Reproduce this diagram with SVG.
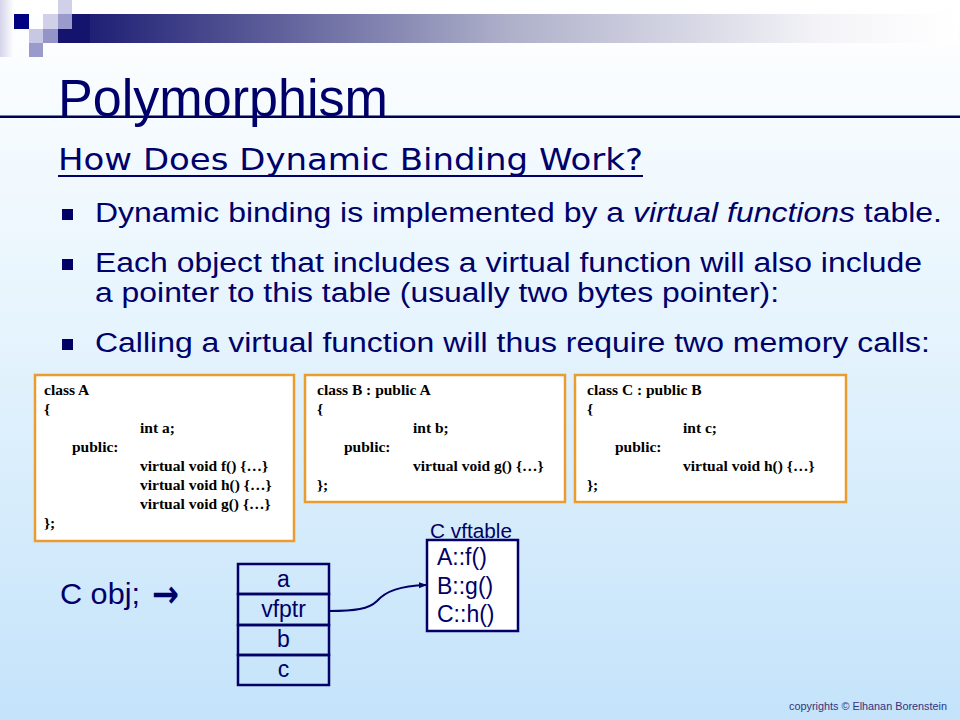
<svg xmlns="http://www.w3.org/2000/svg" width="960" height="720" viewBox="0 0 960 720">
<defs>
<linearGradient id="bg" x1="0" y1="0" x2="0" y2="1">
<stop offset="0" stop-color="#ffffff"/>
<stop offset="0.45" stop-color="#e6f4fd"/>
<stop offset="1" stop-color="#c4e3fa"/>
</linearGradient>
<linearGradient id="bar" x1="0" y1="0" x2="1" y2="0">
<stop offset="0" stop-color="#14146e"/>
<stop offset="0.5" stop-color="#aeb0ca"/>
<stop offset="0.85" stop-color="#f4f4f8"/>
<stop offset="1" stop-color="#ffffff"/>
</linearGradient>
<linearGradient id="edge" x1="0" y1="0" x2="1" y2="0">
<stop offset="0" stop-color="#d4d4ea"/>
<stop offset="1" stop-color="#ffffff"/>
</linearGradient>
<marker id="ah" markerWidth="8" markerHeight="8" refX="7" refY="4" orient="auto" markerUnits="userSpaceOnUse">
<path d="M0,1 L8,4 L0,7 Z" fill="#000066"/>
</marker>
<style>
.title{font-family:"Liberation Sans",Arial,sans-serif;font-size:51px;fill:#00006a}
.sub{font-family:"Comic Sans MS","DejaVu Sans",sans-serif;font-size:31px;fill:#00006a}
.body{font-family:"Liberation Sans",Arial,sans-serif;font-size:27px;fill:#00006a}
.code{font-family:"Liberation Serif","Times New Roman",serif;font-size:15.5px;font-weight:bold;fill:#000000}
.codebox{fill:#ffffff;stroke:#eb9c2e;stroke-width:2.5}
.cell{fill:none;stroke:#000066;stroke-width:2.5}
.lbl{font-family:"Liberation Sans",Arial,sans-serif;font-size:23px;fill:#000066}
.bul{fill:#000066}
</style>
</defs>
<rect width="960" height="720" fill="url(#bg)"/>
<g id="decor">
<rect x="0" y="0" width="14" height="57" fill="url(#edge)"/>
<rect x="58" y="14" width="900" height="29" fill="url(#bar)"/>
<rect x="14" y="14" width="15" height="15" fill="#000080"/>
<rect x="29" y="29" width="14" height="14" fill="#c8c8e4"/>
<rect x="43" y="14" width="15" height="15" fill="#d0d0e8"/>
<rect x="43" y="29" width="15" height="14" fill="#9494c8"/>
<rect x="58" y="0" width="14" height="14" fill="#d0d0e8"/>
<rect x="58" y="14" width="14" height="15" fill="#9a9acc"/>
<rect x="58" y="29" width="14" height="14" fill="#14146e"/>
<rect x="72" y="14" width="18" height="29" fill="#14146e"/>
<rect x="29" y="43" width="14" height="14" fill="#9a9acc"/>
<rect x="0" y="115.5" width="960" height="2.5" fill="#000055"/>
</g>
<g id="title"><text class="title" x="58" y="116" textLength="330" lengthAdjust="spacingAndGlyphs">Polymorphism</text></g>
<g id="subtitle">
<text class="sub" x="58" y="170" textLength="585" lengthAdjust="spacingAndGlyphs">How Does Dynamic Binding Work?</text>
<rect x="58" y="175" width="585" height="2" fill="#00006a"/>
</g>
<g id="bullets">
<rect class="bul" x="62" y="209" width="11" height="11"/>
<text class="body" x="95" y="222" textLength="847" lengthAdjust="spacingAndGlyphs">Dynamic binding is implemented by a <tspan font-style="italic">virtual functions</tspan> table.</text>
<rect class="bul" x="62" y="259" width="11" height="11"/>
<text class="body" x="95" y="272" textLength="827" lengthAdjust="spacingAndGlyphs">Each object that includes a virtual function will also include</text>
<text class="body" x="95" y="302" textLength="684" lengthAdjust="spacingAndGlyphs">a pointer to this table (usually two bytes pointer):</text>
<rect class="bul" x="62" y="339" width="11" height="11"/>
<text class="body" x="95" y="352" textLength="835" lengthAdjust="spacingAndGlyphs">Calling a virtual function will thus require two memory calls:</text>
</g>
<g id="classA">
<rect class="codebox" x="35" y="375" width="259" height="166"/>
<text class="code" x="44" y="395">class A</text>
<text class="code" x="44" y="414">{</text>
<text class="code" x="140" y="433">int a;</text>
<text class="code" x="72" y="452">public:</text>
<text class="code" x="140" y="471">virtual void f() {…}</text>
<text class="code" x="140" y="490">virtual void h() {…}</text>
<text class="code" x="140" y="509">virtual void g() {…}</text>
<text class="code" x="44" y="528">};</text>
</g>
<g id="classB">
<rect class="codebox" x="305" y="375" width="260" height="127"/>
<text class="code" x="317" y="395">class B : public A</text>
<text class="code" x="317" y="414">{</text>
<text class="code" x="413" y="433">int b;</text>
<text class="code" x="344" y="452">public:</text>
<text class="code" x="413" y="471">virtual void g() {…}</text>
<text class="code" x="317" y="490">};</text>
</g>
<g id="classC">
<rect class="codebox" x="575" y="375" width="271" height="127"/>
<text class="code" x="587" y="395">class C : public B</text>
<text class="code" x="587" y="414">{</text>
<text class="code" x="683" y="433">int c;</text>
<text class="code" x="615" y="452">public:</text>
<text class="code" x="683" y="471">virtual void h() {…}</text>
<text class="code" x="587" y="490">};</text>
</g>
<g id="cobj">
<text x="60" y="604" font-family="Liberation Sans, Arial, sans-serif" font-size="29" fill="#00006a" textLength="80" lengthAdjust="spacingAndGlyphs">C obj;</text>
<text x="152" y="607" font-family="DejaVu Sans, sans-serif" font-weight="bold" font-size="38" fill="#00006a" textLength="27" lengthAdjust="spacingAndGlyphs">→</text>
</g>
<g id="object">
<rect class="cell" x="238" y="564" width="91" height="30"/>
<text class="lbl" x="283.5" y="587" text-anchor="middle">a</text>
<rect class="cell" x="238" y="594" width="91" height="31"/>
<text class="lbl" x="283.5" y="617" text-anchor="middle">vfptr</text>
<rect class="cell" x="238" y="625" width="91" height="30"/>
<text class="lbl" x="283.5" y="647" text-anchor="middle">b</text>
<rect class="cell" x="238" y="655" width="91" height="30"/>
<text class="lbl" x="283.5" y="677" text-anchor="middle">c</text>
</g>
<g id="vftable">
<text x="430" y="538" font-family="Liberation Sans, Arial, sans-serif" font-size="20" fill="#000066" textLength="82" lengthAdjust="spacingAndGlyphs">C vftable</text>
<rect x="427" y="540" width="91" height="91" fill="#ffffff" stroke="#000066" stroke-width="2.5"/>
<text class="lbl" x="437" y="565">A::f()</text>
<text class="lbl" x="437" y="594">B::g()</text>
<text class="lbl" x="437" y="622">C::h()</text>
</g>
<g id="connectors">
<path d="M329,611 C355,611 369,609 377,601 C386,591 400,586 426,585" fill="none" stroke="#000066" stroke-width="2" marker-end="url(#ah)"/>
</g>
<g id="footer">
<text x="789" y="710" font-family="Liberation Sans, Arial, sans-serif" font-size="10.5" fill="#33337a" textLength="158" lengthAdjust="spacingAndGlyphs">copyrights © Elhanan Borenstein</text>
</g>
</svg>
